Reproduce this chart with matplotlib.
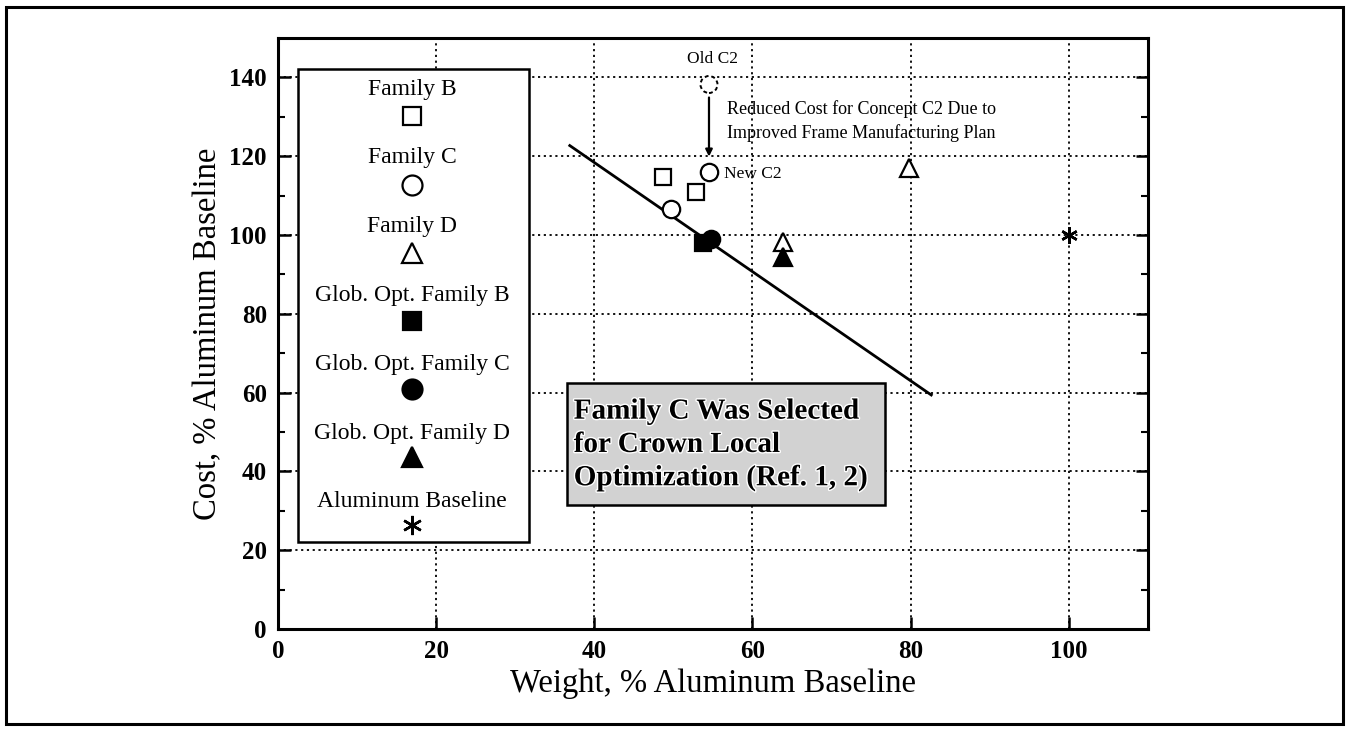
# -*- coding: utf-8 -*-
# Cost vs weight of crown panel design families
import numpy as np
import matplotlib
matplotlib.use("Agg")
import matplotlib.pyplot as plt
import matplotlib.patches as patches
import matplotlib.patheffects as pe

plt.rcParams["font.family"] = ["Liberation Serif", "DejaVu Serif"]

# Data (% of aluminum baseline)
family_b_weight = [48.7, 52.8]
family_b_cost = [114.8, 110.8]
family_c_weight = [49.7, 54.5]
family_c_cost = [106.7, 115.9]
family_d_weight = [63.8, 79.8]
family_d_cost = [98.3, 116.9]
glob_b_weight = [53.7]
glob_b_cost = [98.1]
glob_c_weight = [54.8]
glob_c_cost = [99.1]
glob_d_weight = [63.8]
glob_d_cost = [94.3]
baseline_weight = [100.0]
baseline_cost = [100.0]
old_c2_weight = [54.5]
old_c2_cost = [138.2]
trend_weight = [36.9, 82.6]
trend_cost = [122.7, 59.4]

legend_labels = ["Family B", "Family C", "Family D", "Glob. Opt. Family B",
                 "Glob. Opt. Family C", "Glob. Opt. Family D", "Aluminum Baseline"]

x_ticks = [0, 20, 40, 60, 80, 100]
y_ticks = [0, 20, 40, 60, 80, 100, 120, 140]

# Marker styles
asterisk = (6, 2, 0)
styles = [
    dict(marker="s", mfc="white", mec="black", ms=11.5, mew=1.6),
    dict(marker="o", mfc="white", mec="black", ms=12.5, mew=1.6),
    dict(marker="^", mfc="white", mec="black", ms=13, mew=1.6),
    dict(marker="s", mfc="black", mec="black", ms=11.5, mew=1.6),
    dict(marker="o", mfc="black", mec="black", ms=12.5, mew=1.6),
    dict(marker="^", mfc="black", mec="black", ms=13, mew=1.6),
    dict(marker=asterisk, mfc="black", mec="black", ms=12, mew=1.8),
]

fig = plt.figure(figsize=(13.49, 7.31), dpi=100)
ax = fig.add_axes([0.206, 0.1395, 0.645, 0.8085])

# Outer frame
fig.patches.append(patches.Rectangle((6 / 1349, 1 - 724 / 731), 1337 / 1349, 717 / 731,
                                     transform=fig.transFigure, fill=False,
                                     edgecolor="black", linewidth=2.2))

# Points
series = [(family_b_weight, family_b_cost), (family_c_weight, family_c_cost),
          (family_d_weight, family_d_cost), (glob_b_weight, glob_b_cost),
          (glob_c_weight, glob_c_cost), (glob_d_weight, glob_d_cost),
          (baseline_weight, baseline_cost)]
for (wx, cy), st in zip(series, styles):
    ax.plot(wx, cy, linestyle="none", zorder=4, **st)

# Old C2 (dashed circle)
ax.scatter(old_c2_weight, old_c2_cost, s=150, facecolors="white", edgecolors="black",
           linewidths=1.4, linestyles=(0, (2.0, 1.5)), zorder=4)

# Trend line
ax.plot(trend_weight, trend_cost, color="black", linewidth=2.0, zorder=3)

# Labels around C2
ax.text(old_c2_weight[0] + 0.4, 144.8, "Old C2", ha="center", va="center", fontsize=12.5)
ax.text(56.4, family_c_cost[1] - 0.3, "New C2", ha="left", va="center", fontsize=12.5)
ax.annotate("", xy=(old_c2_weight[0], 119.9), xytext=(old_c2_weight[0], 134.9),
            arrowprops=dict(arrowstyle="-|>", color="black", lw=1.6, mutation_scale=10,
                            shrinkA=0, shrinkB=0))
ax.text(56.8, 128.9, "Reduced Cost for Concept C2 Due to\nImproved Frame Manufacturing Plan",
        ha="left", va="center", fontsize=13, linespacing=1.45)

# Legend box drawn by hand
ax.add_patch(patches.Rectangle((2.5, 22.0), 29.3, 120.2, facecolor="white",
                               edgecolor="black", linewidth=1.8, zorder=5))
text_y = np.linspace(137.0, 32.3, len(legend_labels))
mark_y = np.linspace(130.1, 26.4, len(legend_labels))
for label, ty, my, st in zip(legend_labels, text_y, mark_y, styles):
    ax.text(17.0, ty, label, ha="center", va="center", fontsize=17, zorder=6)
    big = dict(st, ms=st["ms"] * 1.15)
    ax.plot([17.0], [my], linestyle="none", zorder=6, **big)

# Selection box
ax.add_patch(patches.Rectangle((36.5, 31.5), 40.3, 31.0, facecolor="#d2d2d2",
                               edgecolor="black", linewidth=1.8, zorder=5))
ax.text(37.4, 46.8, "Family C Was Selected\nfor Crown Local\nOptimization (Ref. 1, 2)",
        ha="left", va="center", fontsize=21, fontweight="bold", linespacing=1.3, zorder=6,
        path_effects=[pe.withStroke(linewidth=2, foreground="white")])

# Axes
ax.set_xlim(0, 110)
ax.set_ylim(0, 150)
ax.set_xticks(x_ticks)
ax.set_yticks(y_ticks)
ax.set_yticks(np.arange(10, 150, 20), minor=True)
ax.tick_params(axis="both", which="major", direction="in", length=9, width=1.8,
               labelsize=18, pad=8, right=True)
ax.tick_params(axis="y", which="minor", direction="in", length=5, width=1.5, right=True)
for lab in ax.get_xticklabels() + ax.get_yticklabels():
    lab.set_fontweight("bold")
ax.grid(True, which="major", linestyle=(0, (1.2, 2.0)), color="black", linewidth=1.3)
for sp in ax.spines.values():
    sp.set_linewidth(2.2)
ax.set_xlabel("Weight, % Aluminum Baseline", fontsize=23.5, labelpad=4)
ax.set_ylabel("Cost, % Aluminum Baseline", fontsize=23.5, labelpad=4)

fig.savefig("out.png", dpi=100)
